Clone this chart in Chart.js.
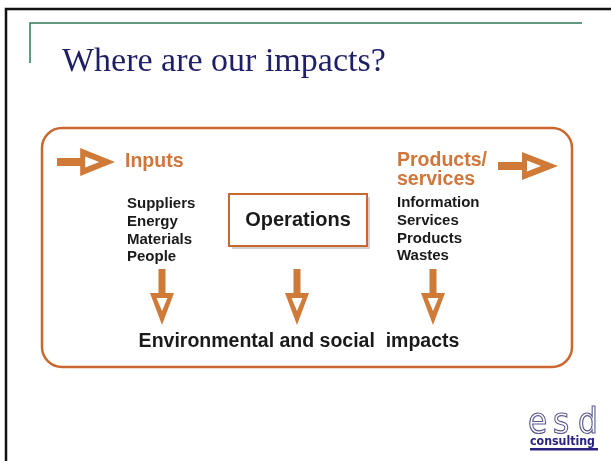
<!DOCTYPE html>
<html>
<head>
<meta charset="utf-8">
<script src="https://cdn.jsdelivr.net/npm/chart.js@4.4.0/dist/chart.umd.min.js"></script>
<style>
  html, body { margin: 0; padding: 0; background: #fff; }
  #wrap { width: 611px; height: 461px; }
</style>
</head>
<body>
<div id="wrap"><canvas id="slide" width="611" height="461"></canvas></div>
<script>
// slide content
const title = 'Where are our impacts?'
const inputItems = ['Suppliers', 'Energy', 'Materials', 'People']
const outputItems = ['Information', 'Services', 'Products', 'Wastes']
const headings = ['Inputs', 'Products/', 'services']
const centreLabel = 'Operations'
const impactLabel = 'Environmental and social  impacts'
const logoText = ['esd', 'consulting']

// layout in slide units (same as pixels, y down)
const layout = {
    frame: { left: 6, top: 9 },
    rule: { x: 30, y: 23, right: 582, bottom: 63 },
    titlePos: { x: 62, y: 71 },
    panel: { x1: 42, y1: 128, x2: 572, y2: 367, r: 20 },
    inputHead: { x: 125, y: 162 },
    outputHead: { x: 397, y: 161, y2: 180 },
    inputList: { x: 127, y: 204, step: 17.7 },
    outputList: { x: 397, y: 203, step: 17.7 },
    box: { x1: 229, y1: 194, x2: 367, y2: 246 },
    sideArrows: [{ x1: 57, x2: 115, y: 162 }, { x1: 498, x2: 558, y: 166 }],
    downArrows: [162, 297, 433],
    downY: { y1: 269, y2: 325 },
    impactPos: { x: 299, y: 342 },
    logo: { x: 528, y: 433, step: 25, ux: 530, uy: 448 }
}

const orange = '#cf7a36'
const orangeLine = '#c9672e'
const navy = '#1e1f66'

function px(chart, x) { return chart.scales.x.getPixelForValue(x) }
function py(chart, y) { return chart.scales.y.getPixelForValue(y) }

function sideArrow(ctx, c, a) {
    const x1 = px(c, a.x1), x2 = px(c, a.x2), y = py(c, a.y)
    const hx = x1 + (x2 - x1) * 0.4
    ctx.fillStyle = orange
    ctx.fillRect(x1, y - 4, hx - x1 + 2, 8)
    ctx.beginPath()
    ctx.moveTo(hx, y - 14); ctx.lineTo(x2, y); ctx.lineTo(hx, y + 14); ctx.closePath()
    ctx.fill()
    ctx.fillStyle = '#fff'
    ctx.beginPath()
    ctx.moveTo(hx + 5, y - 5.5); ctx.lineTo(hx + 19, y); ctx.lineTo(hx + 5, y + 5.5); ctx.closePath()
    ctx.fill()
}

function downArrow(ctx, c, xv) {
    const x = px(c, xv), y1 = py(c, layout.downY.y1), y2 = py(c, layout.downY.y2)
    const hy = y1 + 24
    ctx.fillStyle = orange
    ctx.fillRect(x - 3.5, y1, 7, hy - y1 + 2)
    ctx.beginPath()
    ctx.moveTo(x - 12, hy); ctx.lineTo(x + 12, hy); ctx.lineTo(x, y2); ctx.closePath()
    ctx.fill()
    ctx.fillStyle = '#fff'
    ctx.beginPath()
    ctx.moveTo(x - 5.5, hy + 5); ctx.lineTo(x + 5.5, hy + 5); ctx.lineTo(x, hy + 18); ctx.closePath()
    ctx.fill()
}

function roundRect(ctx, x1, y1, x2, y2, r) {
    ctx.beginPath()
    ctx.moveTo(x1 + r, y1)
    ctx.arcTo(x2, y1, x2, y2, r)
    ctx.arcTo(x2, y2, x1, y2, r)
    ctx.arcTo(x1, y2, x1, y1, r)
    ctx.arcTo(x1, y1, x2, y1, r)
    ctx.closePath()
}

const slidePlugin = {
    id: 'slide',
    afterDraw(c) {
        const ctx = c.ctx
        const L = layout
        ctx.save()
        // black frame
        ctx.strokeStyle = '#111'
        ctx.lineWidth = 2.5
        ctx.beginPath()
        ctx.moveTo(px(c, L.frame.left), py(c, 461))
        ctx.lineTo(px(c, L.frame.left), py(c, L.frame.top))
        ctx.lineTo(px(c, 611), py(c, L.frame.top))
        ctx.stroke()
        // green rule
        ctx.strokeStyle = '#2e7a55'
        ctx.lineWidth = 1.5
        ctx.beginPath()
        ctx.moveTo(px(c, L.rule.x), py(c, L.rule.bottom))
        ctx.lineTo(px(c, L.rule.x), py(c, L.rule.y))
        ctx.lineTo(px(c, L.rule.right), py(c, L.rule.y))
        ctx.stroke()
        // title
        ctx.fillStyle = navy
        ctx.font = '34px "Liberation Serif", serif'
        ctx.textBaseline = 'alphabetic'
        ctx.fillText(title, px(c, L.titlePos.x), py(c, L.titlePos.y))

        // panel
        ctx.strokeStyle = orangeLine
        ctx.lineWidth = 2.5
        roundRect(ctx, px(c, L.panel.x1), py(c, L.panel.y1), px(c, L.panel.x2), py(c, L.panel.y2), L.panel.r)
        ctx.stroke()

        // operations box with shadow
        const bx1 = px(c, L.box.x1), by1 = py(c, L.box.y1), bx2 = px(c, L.box.x2), by2 = py(c, L.box.y2)
        ctx.fillStyle = 'rgba(0,0,0,0.18)'
        ctx.fillRect(bx1 + 3, by1 + 3, bx2 - bx1, by2 - by1)
        ctx.fillStyle = '#fff'
        ctx.fillRect(bx1, by1, bx2 - bx1, by2 - by1)
        ctx.strokeStyle = orangeLine
        ctx.lineWidth = 2
        ctx.strokeRect(bx1, by1, bx2 - bx1, by2 - by1)

        ctx.textBaseline = 'middle'
        ctx.fillStyle = '#1a1a1a'
        ctx.font = 'bold 20px "Liberation Sans", Arial, sans-serif'
        ctx.textAlign = 'center'
        ctx.fillText(centreLabel, (bx1 + bx2) / 2, (by1 + by2) / 2)

        // headings
        ctx.textAlign = 'left'
        ctx.fillStyle = '#d0763a'
        ctx.font = 'bold 19.5px "Liberation Sans", Arial, sans-serif'
        ctx.fillText(headings[0], px(c, L.inputHead.x), py(c, L.inputHead.y))
        ctx.fillText(headings[1], px(c, L.outputHead.x), py(c, L.outputHead.y))
        ctx.fillText(headings[2], px(c, L.outputHead.x), py(c, L.outputHead.y2))

        // item lists
        ctx.fillStyle = '#1a1a1a'
        ctx.font = 'bold 15px "Liberation Sans", Arial, sans-serif'
        inputItems.forEach((t, i) => {
            ctx.fillText(t, px(c, L.inputList.x), py(c, L.inputList.y + i * L.inputList.step))
        })
        outputItems.forEach((t, i) => {
            ctx.fillText(t, px(c, L.outputList.x), py(c, L.outputList.y + i * L.outputList.step))
        })

        // arrows
        L.sideArrows.forEach(a => sideArrow(ctx, c, a))
        L.downArrows.forEach(x => downArrow(ctx, c, x))

        // impacts
        ctx.fillStyle = '#1a1a1a'
        ctx.font = 'bold 19.5px "Liberation Sans", Arial, sans-serif'
        ctx.textAlign = 'center'
        ctx.fillText(impactLabel, px(c, L.impactPos.x), py(c, L.impactPos.y))

        // logo: tall outlined letters
        ctx.textAlign = 'left'
        ctx.textBaseline = 'alphabetic'
        ctx.font = '26px "DejaVu Sans", sans-serif'
        ctx.strokeStyle = '#5a5890'
        ctx.lineWidth = 0.9
        const lx = px(c, L.logo.x), ly = py(c, L.logo.y)
        logoText[0].split('').forEach((ch, i) => {
            ctx.save()
            ctx.translate(lx + i * L.logo.step, ly)
            ctx.scale(1.2, 1.35)
            ctx.strokeText(ch, 0, 0)
            ctx.restore()
        })
        ctx.fillStyle = '#2a2280'
        ctx.font = '900 12px "DejaVu Sans", sans-serif'
        ctx.save()
        ctx.translate(px(c, L.logo.ux), ly + 12)
        ctx.scale(0.92, 1)
        ctx.fillText(logoText[1], 0, 0)
        ctx.restore()
        ctx.fillRect(px(c, L.logo.ux), py(c, L.logo.uy), 68, 2.5)
        ctx.restore()
    }
}

new Chart(document.getElementById('slide').getContext('2d'), {
    type: 'scatter',
    data: { datasets: [{ data: [], pointRadius: 0 }] },
    options: {
        responsive: false,
        animation: false,
        layout: { padding: 0 },
        plugins: { legend: { display: false }, tooltip: { enabled: false } },
        scales: {
            x: { type: 'linear', min: 0, max: 611, display: false },
            y: { type: 'linear', min: 0, max: 461, reverse: true, display: false }
        }
    },
    plugins: [slidePlugin]
})
</script>
</body>
</html>
